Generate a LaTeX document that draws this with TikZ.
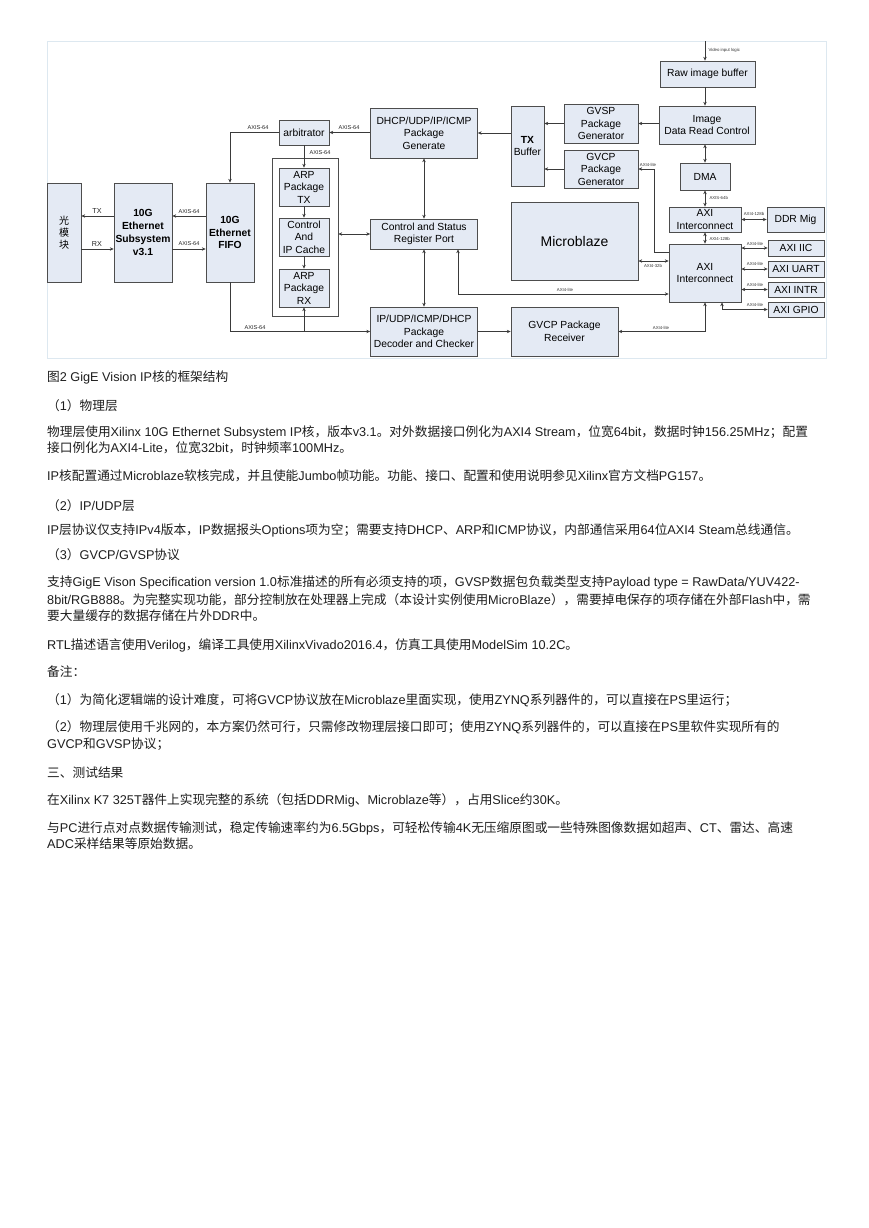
\documentclass[tikz,border=0pt]{standalone}
\usepackage{fontspec}
\setmainfont{Liberation Sans}
\newfontfamily\cjkf{Noto Sans CJK SC}
\newfontfamily\latf{Liberation Sans}
\usetikzlibrary{arrows.meta,shadows}
% automatic switch between Latin and CJK fonts
\XeTeXinterchartokenstate=1
\newXeTeXintercharclass\CJKcls
\newcount\cc
\cc="3000 \loop \XeTeXcharclass\cc=\CJKcls \ifnum\cc<"303F \advance\cc by 1 \repeat
\cc="4E00 \loop \XeTeXcharclass\cc=\CJKcls \ifnum\cc<"9FFF \advance\cc by 1 \repeat
\cc="FF00 \loop \XeTeXcharclass\cc=\CJKcls \ifnum\cc<"FFEF \advance\cc by 1 \repeat
\XeTeXinterchartoks 0 \CJKcls = {\cjkf}
\XeTeXinterchartoks 4095 \CJKcls = {\cjkf}
\XeTeXinterchartoks \CJKcls 0 = {\latf}
\definecolor{boxfill}{HTML}{E4EAF4}
\definecolor{boxline}{HTML}{4D4D4D}
\definecolor{framecol}{HTML}{DDE8F0}
\definecolor{lncol}{HTML}{3A3A3A}
\definecolor{txt}{HTML}{1E1E1E}
\tikzset{
  box/.style={draw=boxline, fill=boxfill, line width=0.75pt, align=center, inner sep=1pt,
    font=\fontsize{10.3}{12.5}\selectfont, text=black,
    drop shadow={shadow xshift=0.8pt, shadow yshift=-0.8pt, fill=black!40, opacity=0.5}},
  bbox/.style={font=\fontsize{10.3}{12.8}\selectfont\bfseries},
  grp/.style={draw=boxline, fill=white, line width=0.75pt},
  ln/.style={draw=lncol, line width=0.7pt},
  arr/.style={ln, -{Stealth[length=3.8pt,width=3.4pt]}},
  darr/.style={ln, {Stealth[length=3.8pt,width=3.4pt]}-{Stealth[length=3.8pt,width=3.4pt]}},
  lab/.style={font=\fontsize{5.6}{6}\selectfont, inner sep=0.5pt, text=black!85},
  slab/.style={font=\fontsize{4.3}{5}\selectfont, inner sep=0.3pt, text=black!80},
  body/.style={anchor=base west, inner sep=0pt, font=\fontsize{12.7}{16}\selectfont, text=txt},
}
\newcommand\mybox[6][]{\node[box,#1,minimum width=#4pt,minimum height=#5pt] (#2) at (#3) {#6};}
\begin{document}
\begin{tikzpicture}[x=1pt,y=-1pt]
\useasboundingbox (0,0) rectangle (868,1228);
\fill[white] (0,0) rectangle (868,1228);
\draw[framecol, line width=0.8pt] (47,41) rectangle (826,358);

% ---- boxes
\mybox[font=\fontsize{10}{12}\selectfont]{opt}{64,232.5}{34}{99}{光\\模\\块}
\mybox[bbox]{sub}{143,232.5}{58}{99}{10G\\Ethernet\\Subsystem\\v3.1}
\mybox[bbox]{fifo}{230,232.5}{48}{99}{10G\\Ethernet\\FIFO}
\node[grp, minimum width=66pt, minimum height=158pt] (grp) at (305,237) {};
\mybox{arb}{304,132.5}{50}{25}{arbitrator}
\mybox{arptx}{304,187}{50}{38}{ARP\\Package\\TX}
\mybox{ctrl}{304,237}{50}{38}{Control\\And\\IP Cache}
\mybox{arprx}{304,288}{50}{38}{ARP\\Package\\RX}
\mybox{gen}{424,133}{107}{50}{DHCP/UDP/IP/ICMP\\Package\\Generate}
\mybox{txb}{527.5,146}{33}{80}{\textbf{TX}\\Buffer}
\mybox{gvsp}{601,123.5}{74}{39}{GVSP\\Package\\Generator}
\mybox{gvcp}{601,169}{74}{38}{GVCP\\Package\\Generator}
\mybox{raw}{707.5,74}{95}{26}{Raw image buffer}
\mybox{idrc}{707,125}{96}{38}{Image\\Data Read Control}
\mybox{dma}{705,176.5}{50}{27}{DMA}
\mybox{axit}{705,219.5}{72}{25}{AXI\\Interconnect}
\mybox{ddr}{795.5,219.5}{57}{25}{DDR Mig}
\mybox{axib}{705,273}{72}{58}{AXI\\Interconnect}
\mybox{iic}{796,248}{56}{16}{AXI IIC}
\mybox{uart}{796,269}{56}{16}{AXI UART}
\mybox{intr}{796,289.5}{56}{15}{AXI INTR}
\mybox{gpio}{796,309.5}{56}{15}{AXI GPIO}
\mybox[font=\fontsize{14}{16}\selectfont]{mb}{574.5,241}{127}{78}{Microblaze}
\mybox{csr}{424,234}{107}{30}{Control and Status\\Register Port}
\mybox{dec}{424,331.5}{107}{49}{IP/UDP/ICMP/DHCP\\Package\\Decoder and Checker}
\mybox{rcv}{564.5,331.5}{107}{49}{GVCP Package\\Receiver}

% ---- connectors, left part
\draw[arr] (sub.west|-0,216) -- (opt.east|-0,216);
\draw[arr] (opt.east|-0,249) -- (sub.west|-0,249);
\draw[arr] (fifo.west|-0,216) -- (sub.east|-0,216);
\draw[arr] (sub.east|-0,249) -- (fifo.west|-0,249);
\node[lab, font=\fontsize{7.2}{8}\selectfont] (ltx) at (97,211) {TX};
\node[lab, font=\fontsize{7.2}{8}\selectfont] (lrx) at (97,244) {RX};
\node[lab] (l1) at (189,211.5) {AXIS-64};
\node[lab] (l2) at (189,243.5) {AXIS-64};

\draw[arr] (arb.west) -| (fifo.north);
\node[lab] (l3) at (258,127.5) {AXIS-64};
\draw[arr] (gen.west|-arb.east) -- (arb.east);
\node[lab] (l4) at (349,127.5) {AXIS-64};
\draw[arr] (arb.south) -- (arptx.north);
\node[lab] (l5) at (320,153) {AXIS-64};
\draw[arr] (arptx.south) -- (ctrl.north);
\draw[arr] (ctrl.south) -- (arprx.north);
\draw[arr] (fifo.south) |- (dec.west);
\draw[arr] (arprx.south|-dec.west) -- (arprx.south);
\node[lab] (l6) at (255,327.5) {AXIS-64};

% ---- middle
\draw[darr] (grp.east|-csr.west) -- (csr.west);
\draw[darr] (gen.south) -- (csr.north);
\draw[darr] (csr.south) -- (dec.north);
\draw[arr] (dec.east) -- (rcv.west);
\draw[darr] (rcv.east) -| (axib.south);
\node[slab] (l7) at (661,327.5) {AXI4-lite};
\coordinate (cs) at ([xshift=34pt]csr.south);
\draw[darr] (cs) |- (axib.west|-0,294);
\node[slab] (l8) at (565,289.5) {AXI4-lite};
\draw[darr] (mb.east|-0,261) -- (axib.west|-0,261);
\node[slab] (l9) at (653,265.5) {AXI4-32b};
\coordinate (kk) at (654,252);
\draw[arr] (axib.west|-kk) -- (kk) |- (gvcp.east);
\node[slab] (l10) at (648,164.5) {AXI4-lite};

% ---- top right
\draw[arr] (gvsp.west) -- (txb.east|-gvsp.west);
\draw[arr] (gvcp.west) -- (txb.east|-gvcp.west);
\draw[arr] (txb.west|-gen.east) -- (gen.east);
\draw[arr] (idrc.west|-gvsp.east) -- (gvsp.east);
\coordinate (vin) at (705,41.5);
\draw[arr] (vin) -- (vin|-raw.north);
\node[slab, anchor=west] (l11) at (708,50.5) {Video input logic};
\draw[arr] (vin|-raw.south) -- (vin|-idrc.north);
\draw[darr] (vin|-idrc.south) -- (dma.north);
\draw[darr] (dma.south) -- (axit.north);
\node[slab, anchor=west] (l12) at (709,198) {AXIS-64b};
\draw[darr] (axit.south) -- (axib.north);
\node[slab, anchor=west] (l13) at (709,238.5) {AXI4-128b};
\draw[darr] (axit.east) -- (ddr.west);
\node[slab] (l14) at (754,213.5) {AXI4-128b};
\draw[darr] (axib.east|-iic.west) -- (iic.west);
\node[slab] (l15) at (755,243.5) {AXI4-lite};
\draw[darr] (axib.east|-uart.west) -- (uart.west);
\node[slab] (l16) at (755,264) {AXI4-lite};
\draw[darr] (axib.east|-intr.west) -- (intr.west);
\node[slab] (l17) at (755,284.5) {AXI4-lite};
\coordinate (gp) at ([xshift=17pt]axib.south);
\draw[darr] (gp) |- (gpio.west);
\node[slab] (l18) at (755,305) {AXI4-lite};

% ---- body text
\node[body] (t1) at (47,381.5) {图2 GigE Vision IP核的框架结构};
\node[body] (t2) at (47,410.5) {（1）物理层};
\node[body] (t3) at (47,436.5) {物理层使用Xilinx 10G Ethernet Subsystem IP核，版本v3.1。对外数据接口例化为AXI4 Stream，位宽64bit，数据时钟156.25MHz；配置};
\node[body] (t4) at (47,452.5) {接口例化为AXI4-Lite，位宽32bit，时钟频率100MHz。};
\node[body] (t5) at (47,480.5) {IP核配置通过Microblaze软核完成，并且使能Jumbo帧功能。功能、接口、配置和使用说明参见Xilinx官方文档PG157。};
\node[body] (t6) at (47,510.5) {（2）IP/UDP层};
\node[body] (t7) at (47,534.5) {IP层协议仅支持IPv4版本，IP数据报头Options项为空；需要支持DHCP、ARP和ICMP协议，内部通信采用64位AXI4 Steam总线通信。};
\node[body] (t8) at (47,559.5) {（3）GVCP/GVSP协议};
\node[body] (t9) at (47,586.5) {支持GigE Vison Specification version 1.0标准描述的所有必须支持的项，GVSP数据包负载类型支持Payload type = RawData/YUV422-};
\node[body] (t10) at (47,604.5) {8bit/RGB888。为完整实现功能，部分控制放在处理器上完成（本设计实例使用MicroBlaze），需要掉电保存的项存储在外部Flash中，需};
\node[body] (t11) at (47,620.5) {要大量缓存的数据存储在片外DDR中。};
\node[body] (t12) at (47,649.5) {RTL描述语言使用Verilog，编译工具使用XilinxVivado2016.4，仿真工具使用ModelSim 10.2C。};
\node[body] (t13) at (47,676.5) {备注：};
\node[body] (t14) at (47,704.5) {（1）为简化逻辑端的设计难度，可将GVCP协议放在Microblaze里面实现，使用ZYNQ系列器件的，可以直接在PS里运行；};
\node[body] (t15) at (47,731.5) {（2）物理层使用千兆网的，本方案仍然可行，只需修改物理层接口即可；使用ZYNQ系列器件的，可以直接在PS里软件实现所有的};
\node[body] (t16) at (47,748.5) {GVCP和GVSP协议；};
\node[body] (t17) at (47,777.5) {三、测试结果};
\node[body] (t18) at (47,804.5) {在Xilinx K7 325T器件上实现完整的系统（包括DDRMig、Microblaze等），占用Slice约30K。};
\node[body] (t19) at (47,832.5) {与PC进行点对点数据传输测试，稳定传输速率约为6.5Gbps，可轻松传输4K无压缩原图或一些特殊图像数据如超声、CT、雷达、高速};
\node[body] (t20) at (47,848.5) {ADC采样结果等原始数据。};
\end{tikzpicture}
\end{document}
